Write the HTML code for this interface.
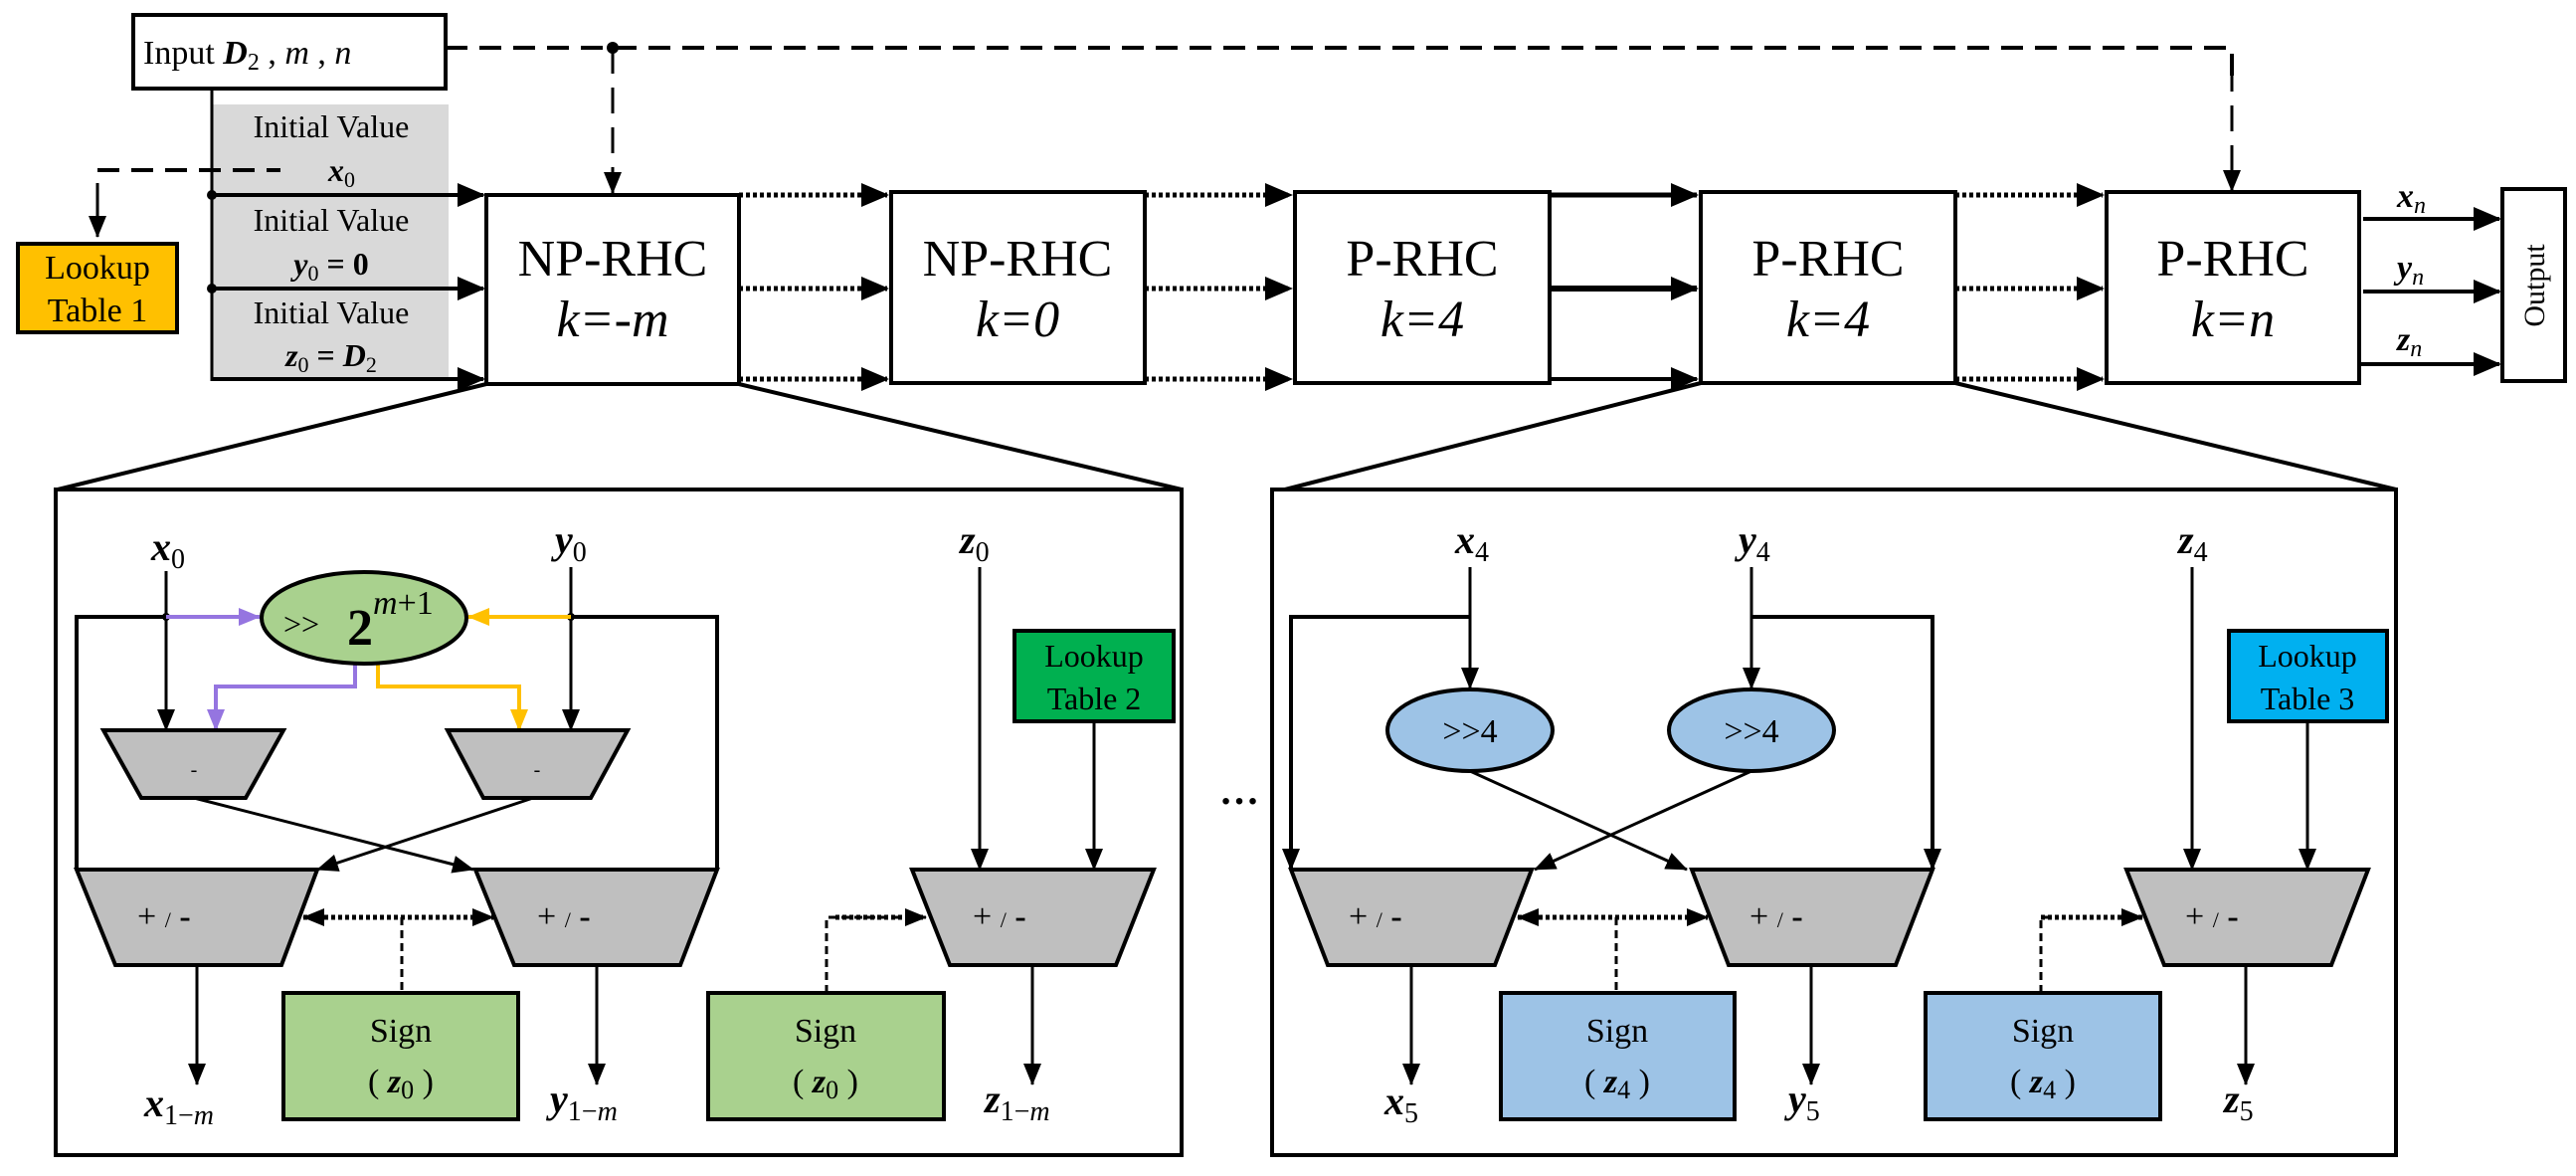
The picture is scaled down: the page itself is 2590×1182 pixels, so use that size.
<!DOCTYPE html>
<html><head><meta charset="utf-8"><style>
html,body{margin:0;padding:0;background:#fff;}
svg{display:block;font-family:"Liberation Serif",serif;}
text{font-family:"Liberation Serif",serif;fill:#000;}
.b{font-weight:bold;font-style:italic;}
.i{font-style:italic;}
</style></head><body>
<svg width="2590" height="1182" viewBox="0 0 2590 1182" xmlns="http://www.w3.org/2000/svg" font-family="Liberation Serif, serif">
<defs>
<marker id="a" markerUnits="userSpaceOnUse" markerWidth="28" markerHeight="24" refX="26" refY="12" orient="auto"><path d="M0,0 L28,12 L0,24 Z" fill="#000"/></marker>
<marker id="as" markerUnits="userSpaceOnUse" markerWidth="22" markerHeight="18" refX="21" refY="9" orient="auto"><path d="M0,0 L22,9 L0,18 Z" fill="#000"/></marker>
<marker id="ap" markerUnits="userSpaceOnUse" markerWidth="22" markerHeight="18" refX="21" refY="9" orient="auto"><path d="M0,0 L22,9 L0,18 Z" fill="#9575E0"/></marker>
<marker id="ay" markerUnits="userSpaceOnUse" markerWidth="22" markerHeight="18" refX="21" refY="9" orient="auto"><path d="M0,0 L22,9 L0,18 Z" fill="#FFC000"/></marker>
<marker id="asr" markerUnits="userSpaceOnUse" markerWidth="22" markerHeight="18" refX="1" refY="9" orient="auto"><path d="M22,0 L0,9 L22,18 Z" fill="#000"/></marker>
</defs>

<!-- Top section -->
<rect x="134" y="15" width="314" height="74" fill="#fff" stroke="#000" stroke-width="4"/>
<text x="144" y="64" font-size="34">Input <tspan class="b">D</tspan><tspan font-size="24" dy="6">2</tspan><tspan dy="-6"> ,  </tspan><tspan class="i">m</tspan> ,  <tspan class="i">n</tspan></text>

<rect x="214" y="105" width="237" height="278" fill="#d9d9d9"/>
<line x1="213" y1="89" x2="213" y2="383" stroke="#000" stroke-width="3"/>
<text x="333" y="138" font-size="32" text-anchor="middle">Initial Value</text>
<text x="330" y="182" font-size="32" class="b">x<tspan font-size="22" dy="6" style="font-weight:normal;font-style:normal">0</tspan></text>
<text x="333" y="232" font-size="32" text-anchor="middle">Initial Value</text>
<text x="333" y="276" font-size="32" text-anchor="middle" font-weight="bold"><tspan class="b">y</tspan><tspan font-size="22" dy="6" font-weight="normal">0</tspan><tspan dy="-6"> = 0</tspan></text>
<text x="333" y="325" font-size="32" text-anchor="middle">Initial Value</text>
<text x="333" y="368" font-size="32" text-anchor="middle" font-weight="bold"><tspan class="b">z</tspan><tspan font-size="22" dy="6" font-weight="normal">0</tspan><tspan dy="-6"> = </tspan><tspan class="b">D</tspan><tspan font-size="22" dy="6" font-weight="normal">2</tspan></text>

<line x1="213" y1="196" x2="486" y2="196" stroke="#000" stroke-width="4" marker-end="url(#a)"/>
<line x1="213" y1="290" x2="486" y2="290" stroke="#000" stroke-width="4" marker-end="url(#a)"/>
<line x1="213" y1="381" x2="486" y2="381" stroke="#000" stroke-width="4" marker-end="url(#a)"/>
<circle cx="213" cy="196" r="5"/><circle cx="213" cy="290" r="5"/>

<line x1="98" y1="171" x2="282" y2="171" stroke="#000" stroke-width="4" stroke-dasharray="22,12"/>
<line x1="98" y1="184" x2="98" y2="238" stroke="#000" stroke-width="3" marker-end="url(#as)"/>
<rect x="18" y="245" width="160" height="89" fill="#FFC000" stroke="#000" stroke-width="4"/>
<text x="98" y="280" font-size="34" text-anchor="middle">Lookup</text>
<text x="98" y="323" font-size="34" text-anchor="middle">Table 1</text>

<!-- dashed control line -->
<polyline points="448,48 2244,48 2244,80" fill="none" stroke="#000" stroke-width="4" stroke-dasharray="22,12"/>
<line x1="2244" y1="66" x2="2244" y2="192" stroke="#000" stroke-width="3" stroke-dasharray="26,14" marker-end="url(#as)"/>
<circle cx="616" cy="48" r="6"/>
<line x1="616" y1="48" x2="616" y2="194" stroke="#000" stroke-width="3" stroke-dasharray="26,14" marker-end="url(#as)"/>

<!-- RHC boxes -->
<g fill="#fff" stroke="#000" stroke-width="4">
<rect x="489" y="196" width="254" height="190"/>
<rect x="896" y="193" width="255" height="192"/>
<rect x="1302" y="193" width="256" height="192"/>
<rect x="1710" y="193" width="256" height="192"/>
<rect x="2118" y="193" width="254" height="192"/>
<rect x="2516" y="190" width="63" height="193"/>
</g>
<g font-size="52" text-anchor="middle">
<text x="616" y="277">NP-RHC</text><text x="616" y="338" class="i">k=-m</text>
<text x="1023" y="277">NP-RHC</text><text x="1023" y="338" class="i">k=0</text>
<text x="1430" y="277">P-RHC</text><text x="1430" y="338" class="i">k=4</text>
<text x="1838" y="277">P-RHC</text><text x="1838" y="338" class="i">k=4</text>
<text x="2245" y="277">P-RHC</text><text x="2245" y="338" class="i">k=n</text>
</g>
<text x="0" y="0" font-size="30" text-anchor="middle" transform="translate(2558,287) rotate(-90)">Output</text>

<!-- connectors between boxes -->
<g stroke="#000" stroke-width="5" stroke-dasharray="4,3">
<line x1="743" y1="196" x2="892" y2="196" marker-end="url(#a)"/>
<line x1="743" y1="290" x2="892" y2="290" marker-end="url(#a)"/>
<line x1="743" y1="381" x2="892" y2="381" marker-end="url(#a)"/>
<line x1="1151" y1="196" x2="1298" y2="196" marker-end="url(#a)"/>
<line x1="1151" y1="290" x2="1298" y2="290" marker-end="url(#a)"/>
<line x1="1151" y1="381" x2="1298" y2="381" marker-end="url(#a)"/>
<line x1="1966" y1="196" x2="2114" y2="196" marker-end="url(#a)"/>
<line x1="1966" y1="290" x2="2114" y2="290" marker-end="url(#a)"/>
<line x1="1966" y1="381" x2="2114" y2="381" marker-end="url(#a)"/>
</g>
<g stroke="#000" stroke-width="4">
<line x1="1558" y1="196" x2="1706" y2="196" stroke-width="5" marker-end="url(#a)"/>
<line x1="1558" y1="290" x2="1706" y2="290" stroke-width="6" marker-end="url(#a)"/>
<line x1="1558" y1="381" x2="1706" y2="381" marker-end="url(#a)"/>
<line x1="2376" y1="220" x2="2513" y2="220" marker-end="url(#a)"/>
<line x1="2376" y1="293" x2="2513" y2="293" marker-end="url(#a)"/>
<line x1="2372" y1="366" x2="2513" y2="366" marker-end="url(#a)"/>
</g>
<text x="2410" y="208" font-size="34" class="b">x<tspan font-size="24" dy="6" style="font-weight:normal">n</tspan></text>
<text x="2410" y="280" font-size="34" class="b">y<tspan font-size="24" dy="6" style="font-weight:normal">n</tspan></text>
<text x="2410" y="352" font-size="34" class="b">z<tspan font-size="24" dy="6" style="font-weight:normal">n</tspan></text>

<!-- zoom lines -->
<g stroke="#000" stroke-width="4">
<line x1="489" y1="386" x2="58" y2="492"/>
<line x1="743" y1="386" x2="1188" y2="492"/>
<line x1="1710" y1="385" x2="1292" y2="492"/>
<line x1="1966" y1="385" x2="2409" y2="492"/>
</g>

<!-- LEFT PANEL -->
<rect x="56" y="492" width="1132" height="669" fill="none" stroke="#000" stroke-width="4"/>
<text x="152" y="563" font-size="40" class="b">x<tspan font-size="28" dy="8" style="font-weight:normal;font-style:normal">0</tspan></text>
<text x="558" y="556" font-size="40" class="b">y<tspan font-size="28" dy="8" style="font-weight:normal;font-style:normal">0</tspan></text>
<text x="965" y="556" font-size="40" class="b">z<tspan font-size="28" dy="8" style="font-weight:normal;font-style:normal">0</tspan></text>

<g stroke="#000" stroke-width="3" fill="none">
<polyline points="167,620 77,620 77,874" stroke-width="4"/>
<polyline points="574,620 721,620 721,874" stroke-width="4"/>
<line x1="167" y1="574" x2="167" y2="734" marker-end="url(#as)"/>
<line x1="574" y1="570" x2="574" y2="734" marker-end="url(#as)"/>
<line x1="195" y1="802" x2="476" y2="874" marker-end="url(#as)"/>
<line x1="536" y1="802" x2="319" y2="874" marker-end="url(#as)"/>
<line x1="985" y1="570" x2="985" y2="874" marker-end="url(#as)"/>
<line x1="1100" y1="725" x2="1100" y2="874" marker-end="url(#as)"/>
<line x1="198" y1="970" x2="198" y2="1090" marker-end="url(#as)"/>
<line x1="600" y1="970" x2="600" y2="1090" marker-end="url(#as)"/>
<line x1="1038" y1="970" x2="1038" y2="1090" marker-end="url(#as)"/>
</g>
<circle cx="167" cy="620" r="4"/><circle cx="574" cy="620" r="4"/>
<line x1="167" y1="620" x2="261" y2="620" stroke="#9575E0" stroke-width="4" marker-end="url(#ap)"/>
<polyline points="357,667 357,690 217,690 217,734" fill="none" stroke="#9575E0" stroke-width="4" marker-end="url(#ap)"/>
<line x1="574" y1="620" x2="471" y2="620" stroke="#FFC000" stroke-width="4" marker-end="url(#ay)"/>
<polyline points="380,667 380,690 522,690 522,734" fill="none" stroke="#FFC000" stroke-width="4" marker-end="url(#ay)"/>
<ellipse cx="366" cy="621" rx="103" ry="46" fill="#A9D18E" stroke="#000" stroke-width="4"/>
<text x="285" y="638" font-size="32">&gt;&gt;</text>
<text x="349" y="648" font-size="52" font-weight="bold">2</text>
<text x="375" y="617" font-size="34"><tspan class="i">m</tspan>+1</text>

<g fill="#bfbfbf" stroke="#000" stroke-width="4">
<polygon points="104,734 285,734 247,802 142,802"/>
<polygon points="450,734 631,734 594,802 486,802"/>
<polygon points="77,874 319,874 283,970 116,970"/>
<polygon points="478,874 721,874 684,970 517,970"/>
<polygon points="917,874 1160,874 1122,970 955,970"/>
</g>
<text x="195" y="780" font-size="20" text-anchor="middle">-</text>
<text x="540" y="780" font-size="20" text-anchor="middle">-</text>
<g font-size="34">
<text x="138" y="932">+ <tspan font-size="22">/</tspan>  <tspan font-weight="bold">-</tspan></text>
<text x="540" y="932">+ <tspan font-size="22">/</tspan>  <tspan font-weight="bold">-</tspan></text>
<text x="978" y="932">+ <tspan font-size="22">/</tspan>  <tspan font-weight="bold">-</tspan></text>
</g>
<line x1="305" y1="922" x2="496" y2="922" stroke="#000" stroke-width="5" stroke-dasharray="4,3" marker-start="url(#asr)" marker-end="url(#as)"/>
<line x1="404" y1="922" x2="404" y2="998" stroke="#000" stroke-width="3" stroke-dasharray="8,5"/>
<polyline points="831,998 831,922 931,922" fill="none" stroke="#000" stroke-width="3" stroke-dasharray="8,5"/>
<line x1="840" y1="922" x2="931" y2="922" stroke="#000" stroke-width="5" stroke-dasharray="4,3" marker-end="url(#as)"/>

<rect x="1020" y="634" width="160" height="91" fill="#00B050" stroke="#000" stroke-width="4"/>
<text x="1100" y="670" font-size="32" text-anchor="middle">Lookup</text>
<text x="1100" y="713" font-size="32" text-anchor="middle">Table 2</text>

<rect x="285" y="998" width="236" height="127" fill="#A9D18E" stroke="#000" stroke-width="4"/>
<text x="403" y="1047" font-size="34" text-anchor="middle">Sign</text>
<text x="403" y="1098" font-size="34" text-anchor="middle">(  <tspan class="b">z</tspan><tspan font-size="26" dy="6">0</tspan><tspan dy="-6">  )</tspan></text>
<rect x="712" y="998" width="237" height="127" fill="#A9D18E" stroke="#000" stroke-width="4"/>
<text x="830" y="1047" font-size="34" text-anchor="middle">Sign</text>
<text x="830" y="1098" font-size="34" text-anchor="middle">(  <tspan class="b">z</tspan><tspan font-size="26" dy="6">0</tspan><tspan dy="-6">  )</tspan></text>

<text x="145" y="1122" font-size="40" class="b">x<tspan font-size="28" dy="8" style="font-weight:normal;font-style:normal">1−<tspan class="i">m</tspan></tspan></text>
<text x="553" y="1118" font-size="40" class="b">y<tspan font-size="28" dy="8" style="font-weight:normal;font-style:normal">1−<tspan class="i">m</tspan></tspan></text>
<text x="990" y="1118" font-size="40" class="b">z<tspan font-size="28" dy="8" style="font-weight:normal;font-style:normal">1−<tspan class="i">m</tspan></tspan></text>

<text x="1246" y="808" font-size="40" text-anchor="middle" font-weight="bold">…</text>

<!-- RIGHT PANEL -->
<rect x="1279" y="492" width="1130" height="669" fill="none" stroke="#000" stroke-width="4"/>
<text x="1463" y="556" font-size="40" class="b">x<tspan font-size="28" dy="8" style="font-weight:normal;font-style:normal">4</tspan></text>
<text x="1748" y="556" font-size="40" class="b">y<tspan font-size="28" dy="8" style="font-weight:normal;font-style:normal">4</tspan></text>
<text x="2190" y="556" font-size="40" class="b">z<tspan font-size="28" dy="8" style="font-weight:normal;font-style:normal">4</tspan></text>
<g stroke="#000" stroke-width="3" fill="none">
<polyline points="1478,620 1298,620 1298,874" stroke-width="4"/>
<polyline points="1761,620 1943,620 1943,874" stroke-width="4"/>
<line x1="1298" y1="640" x2="1298" y2="874" marker-end="url(#as)"/>
<line x1="1943" y1="640" x2="1943" y2="874" marker-end="url(#as)"/>
<line x1="1478" y1="570" x2="1478" y2="692" marker-end="url(#as)"/>
<line x1="1761" y1="570" x2="1761" y2="692" marker-end="url(#as)"/>
<line x1="1478" y1="775" x2="1696" y2="874" marker-end="url(#as)"/>
<line x1="1761" y1="775" x2="1543" y2="874" marker-end="url(#as)"/>
<line x1="2204" y1="570" x2="2204" y2="874" marker-end="url(#as)"/>
<line x1="2320" y1="725" x2="2320" y2="874" marker-end="url(#as)"/>
<line x1="1419" y1="970" x2="1419" y2="1090" marker-end="url(#as)"/>
<line x1="1821" y1="970" x2="1821" y2="1090" marker-end="url(#as)"/>
<line x1="2258" y1="970" x2="2258" y2="1090" marker-end="url(#as)"/>
</g>
<ellipse cx="1478" cy="734" rx="83" ry="41" fill="#9DC3E6" stroke="#000" stroke-width="4"/>
<ellipse cx="1761" cy="734" rx="83" ry="41" fill="#9DC3E6" stroke="#000" stroke-width="4"/>
<text x="1478" y="746" font-size="34" text-anchor="middle">&gt;&gt;4</text>
<text x="1761" y="746" font-size="34" text-anchor="middle">&gt;&gt;4</text>
<g fill="#bfbfbf" stroke="#000" stroke-width="4">
<polygon points="1298,874 1540,874 1503,970 1335,970"/>
<polygon points="1701,874 1943,874 1906,970 1738,970"/>
<polygon points="2138,874 2381,874 2344,970 2176,970"/>
</g>
<g font-size="34">
<text x="1356" y="932">+ <tspan font-size="22">/</tspan>  <tspan font-weight="bold">-</tspan></text>
<text x="1759" y="932">+ <tspan font-size="22">/</tspan>  <tspan font-weight="bold">-</tspan></text>
<text x="2197" y="932">+ <tspan font-size="22">/</tspan>  <tspan font-weight="bold">-</tspan></text>
</g>
<line x1="1526" y1="922" x2="1717" y2="922" stroke="#000" stroke-width="5" stroke-dasharray="4,3" marker-start="url(#asr)" marker-end="url(#as)"/>
<line x1="1625" y1="922" x2="1625" y2="998" stroke="#000" stroke-width="3" stroke-dasharray="8,5"/>
<polyline points="2052,998 2052,922 2060,922" fill="none" stroke="#000" stroke-width="3" stroke-dasharray="8,5"/>
<line x1="2052" y1="922" x2="2154" y2="922" stroke="#000" stroke-width="5" stroke-dasharray="4,3" marker-end="url(#as)"/>

<rect x="2241" y="634" width="159" height="91" fill="#00B0F0" stroke="#000" stroke-width="4"/>
<text x="2320" y="670" font-size="32" text-anchor="middle">Lookup</text>
<text x="2320" y="713" font-size="32" text-anchor="middle">Table 3</text>

<rect x="1509" y="998" width="235" height="127" fill="#9DC3E6" stroke="#000" stroke-width="4"/>
<text x="1626" y="1047" font-size="34" text-anchor="middle">Sign</text>
<text x="1626" y="1098" font-size="34" text-anchor="middle">(  <tspan class="b">z</tspan><tspan font-size="26" dy="6">4</tspan><tspan dy="-6">  )</tspan></text>
<rect x="1936" y="998" width="236" height="127" fill="#9DC3E6" stroke="#000" stroke-width="4"/>
<text x="2054" y="1047" font-size="34" text-anchor="middle">Sign</text>
<text x="2054" y="1098" font-size="34" text-anchor="middle">(  <tspan class="b">z</tspan><tspan font-size="26" dy="6">4</tspan><tspan dy="-6">  )</tspan></text>

<text x="1392" y="1120" font-size="40" class="b">x<tspan font-size="28" dy="8" style="font-weight:normal;font-style:normal">5</tspan></text>
<text x="1798" y="1118" font-size="40" class="b">y<tspan font-size="28" dy="8" style="font-weight:normal;font-style:normal">5</tspan></text>
<text x="2236" y="1118" font-size="40" class="b">z<tspan font-size="28" dy="8" style="font-weight:normal;font-style:normal">5</tspan></text>
</svg>
</body></html>
